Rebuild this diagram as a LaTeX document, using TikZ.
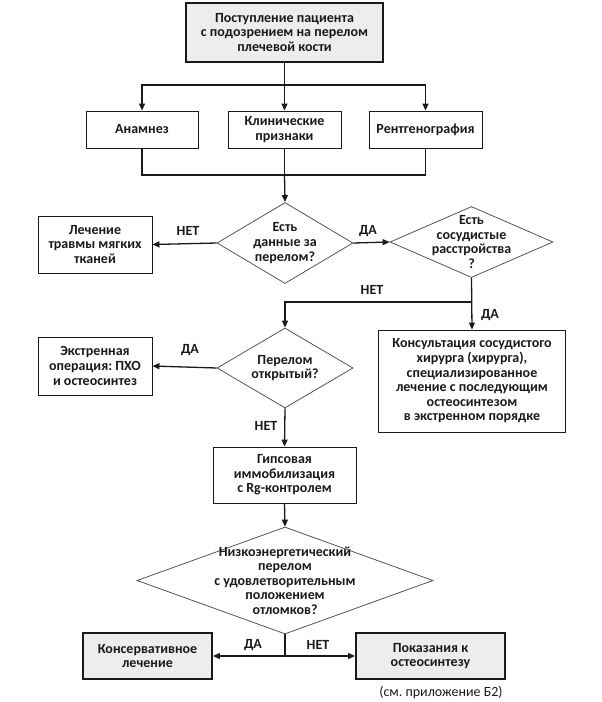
\documentclass[tikz,border=0pt]{standalone}
\usepackage{fontspec}
\setmainfont{Carlito}
\usetikzlibrary{shapes.geometric,arrows.meta}
\definecolor{ln}{HTML}{1A1A1A}
\definecolor{gfill}{HTML}{EDEDED}
\definecolor{dline}{HTML}{555555}
\frenchspacing
\tikzset{
  txt/.style={font=\bfseries\fontsize{14}{14.6}\selectfont, align=center, text=ln},
  box/.style={txt, draw=ln, line width=0.9pt, fill=white, inner sep=1pt},
  gbox/.style={box, fill=gfill, line width=1.8pt},
  dia/.style={diamond, draw=dline, line width=0.8pt, inner sep=0pt, fill=white},
  lbl/.style={txt, inner sep=1pt},
  conn/.style={draw=ln, line width=1.3pt},
  arr/.style={conn, -{Triangle[length=7pt,width=6pt]}},
  note/.style={font=\fontsize{14}{15}\selectfont, text=ln}
}
\begin{document}
\begin{tikzpicture}[x=1pt,y=-1pt]
\useasboundingbox (0,0) rectangle (602,702);
% boxes
\node[gbox, minimum width=197pt, minimum height=59pt] (top) at (284.5,32.5) {Поступление пациента\\с подозрением на перелом\\плечевой кости};
\node[box, minimum width=112pt, minimum height=37pt] (anam) at (142,129.5) {Анамнез};
\node[box, minimum width=113pt, minimum height=37pt] (klin) at (284.5,129.5) {Клинические\\признаки};
\node[box, minimum width=113pt, minimum height=37pt] (rent) at (425.5,129.5) {Рентгенография};
\node[dia, minimum width=136pt, minimum height=81pt] (d1) at (285,243) {};
\node[txt] (d1t) at (d1) {Есть\\данные за\\перелом?};
\node[box, minimum width=114pt, minimum height=57pt] (lech) at (95,244.5) {Лечение\\травмы мягких\\тканей};
\node[dia, minimum width=163pt, minimum height=71pt] (d2) at (471.5,242) {};
\node[txt] (d2t) at (d2) {Есть\\сосудистые\\расстройства\\?};
\node[dia, minimum width=136pt, minimum height=80pt] (d3) at (285,368) {};
\node[txt] (d3t) at (d3) {Перелом\\открытый?};
\node[box, minimum width=114pt, minimum height=58pt] (ekstr) at (95,366) {Экстренная\\операция: ПХО\\и остеосинтез};
\node[box, minimum width=187pt, minimum height=102pt] (kons) at (472,381) {Консультация сосудистого\\хирурга (хирурга),\\специализированное\\лечение с последующим\\остеосинтезом\\в экстренном порядке};
\node[box, minimum width=143pt, minimum height=56pt] (gips) at (284.5,475) {Гипсовая\\иммобилизация\\с Rg-контролем};
\node[dia, minimum width=296pt, minimum height=107pt] (d4) at (285,580.5) {};
\node[txt] (d4t) at (d4) {Низкоэнергетический\\перелом\\с удовлетворительным\\положением\\отломков?};
\node[gbox, minimum width=129pt, minimum height=46pt] (konsl) at (147.5,656) {Консервативное\\лечение};
\node[gbox, minimum width=149pt, minimum height=46pt] (pokaz) at (430.5,656) {Показания к\\остеосинтезу};
\node[note] (nt) at (441,692) {(см. приложение Б2)};
% connectors
\coordinate (b1) at (284.5,85);
\coordinate (c1) at (284.5,175);
\coordinate (j1) at (471.5,302);
\coordinate (j2) at (285,656);
\draw[conn] (top.south) -- (b1);
\draw[arr] (b1) -| (anam.north);
\draw[arr] (b1) -| (rent.north);
\draw[arr] (b1) -- (klin.north);
\draw[conn] (anam.south) |- (c1) -| (rent.south);
\draw[conn] (klin.south) -- (c1);
\draw[arr] (c1) -- (d1.north);
\draw[arr] (d1.west) -- (lech.east);
\draw[arr] (d1.east) -- (d2.west);
\draw[arr] (d2.south) -- (kons.north);
\draw[arr] (j1) -| (d3.north);
\draw[arr] (d3.west) -- (ekstr.east);
\draw[arr] (d3.south) -- (gips.north);
\draw[arr] (gips.south) -- (d4.north);
\draw[conn] (d4.south) -- (j2);
\draw[arr] (j2) -- (konsl.east);
\draw[arr] (j2) -- (pokaz.west);
% labels
\node[lbl] (l1) at (188,231) {НЕТ};
\node[lbl] (l2) at (368,231) {ДА};
\node[lbl] (l3) at (372,290) {НЕТ};
\node[lbl] (l4) at (490,315) {ДА};
\node[lbl] (l5) at (190,350) {ДА};
\node[lbl] (l6) at (266,426) {НЕТ};
\node[lbl] (l7) at (253,645) {ДА};
\node[lbl] (l8) at (318,645) {НЕТ};
\end{tikzpicture}
\end{document}
